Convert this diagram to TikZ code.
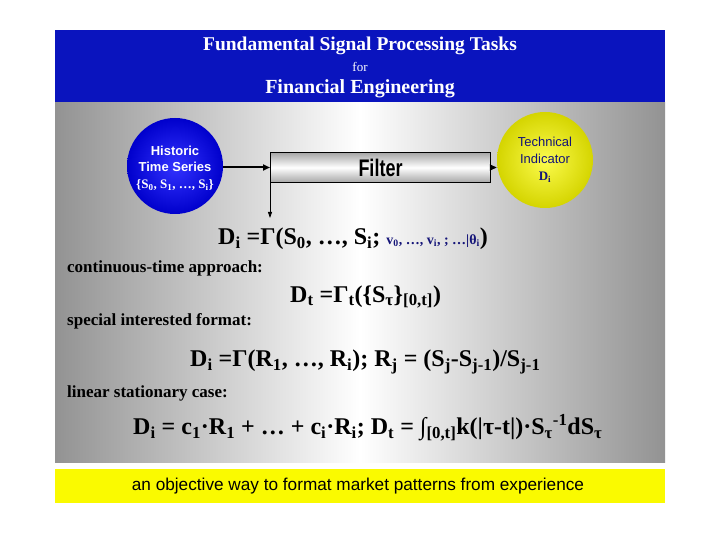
\documentclass[tikz,border=0pt]{standalone}
\usepackage{fontspec}
\setmainfont{Liberation Serif}
\newfontfamily\sans{Liberation Sans}
\usetikzlibrary{arrows.meta}
\definecolor{titleblue}{RGB}{10,20,190}
\definecolor{dkblue}{RGB}{20,20,120}
\definecolor{ylw}{RGB}{250,250,0}
\newcommand\sbb[1]{\textsubscript{#1}}
\newcommand\spp[1]{\textsuperscript{#1}}
\tikzset{x=1pt,y=-1pt,
 lbl/.style={font=\bfseries\fontsize{17}{18}\selectfont,anchor=west,inner sep=0},
 fml/.style={font=\bfseries\fontsize{24}{26}\selectfont,inner sep=0},
 arr/.style={-{Triangle[length=7,width=6]},line width=2}}
\begin{document}
\begin{tikzpicture}
\useasboundingbox (0,0) rectangle (720,540);
\fill[white] (0,0) rectangle (720,540);
\node[fill=titleblue,minimum width=610,minimum height=73,inner sep=0,anchor=north west] (title) at (55,30) {};
\node[white,font=\bfseries\fontsize{19.5}{21}\selectfont] (t1) at (360,46) {Fundamental Signal Processing Tasks};
\node[white,font=\fontsize{13}{14}\selectfont] (t2) at (360,67) {for};
\node[white,font=\bfseries\fontsize{20}{22}\selectfont] (t3) at (360,89) {Financial Engineering};
\shade[left color=gray!85,right color=gray!85,middle color=white] (55,103) rectangle (665,462);
\node[fill=ylw,minimum width=610,minimum height=34,inner sep=0,anchor=north west] (bar) at (55,469) {};
\node[font=\sans\fontsize{17.2}{19}\selectfont] (bt) at (358,486) {an objective way to format market patterns from experience};
\node[circle,minimum size=96,inner sep=0,inner color=blue!80,outer color=blue!80!black] (hist) at (175,166) {};
\node[white,align=center,font=\sans\bfseries\fontsize{13}{16}\selectfont] at (175,159) {Historic\\Time Series};
\node[white,font=\bfseries\fontsize{13}{14}\selectfont] at (175,185) {\{S\sbb{0}, S\sbb{1}, \dots, S\sbb{i}\}};
\node[circle,minimum size=96,inner sep=0,inner color=ylw!70!white,outer color=ylw!85!black] (tech) at (545,160) {};
\node[dkblue,align=center,font=\sans\fontsize{13}{17}\selectfont] at (545,160) {Technical\\Indicator\\{\rmfamily\bfseries D\sbb{i}}};
\node[draw,line width=1,minimum width=220,minimum height=30,inner sep=0,top color=gray!70,bottom color=gray!70,middle color=white,anchor=north west] (filter) at (270,152) {};
\node[font=\sans\bfseries\fontsize{24}{26}\selectfont,xscale=0.75] at (filter.center) {Filter};
\draw[arr] (hist.east |- filter.west) -- (filter.west);
\draw[arr] (filter.east) -- (tech.west |- filter.east);
\coordinate (dn) at (270,218);
\draw[-{Triangle[length=6,width=4]},line width=0.8] (filter.south west) -- (dn);
\node[fml,anchor=west] (f1) at (218,239) {D\sbb{i} =Γ(S\sbb{0}, …, S\sbb{i}; {\color{dkblue}\fontsize{14}{15}\selectfont v\sbb{0}, …, v\sbb{i}, ; …|θ\sbb{i}})};
\node[lbl] (l1) at (67,268) {continuous-time approach:};
\node[fml,anchor=west] (f2) at (290,297) {D\sbb{t} =Γ\sbb{t}(\{S\sbb{τ}\}\sbb{[0,t]})};
\node[lbl] (l2) at (67,321) {special interested format:};
\node[fml,anchor=west] (f3) at (190,362) {D\sbb{i} =Γ(R\sbb{1}, …, R\sbb{i}); R\sbb{j} = (S\sbb{j}-S\sbb{j-1})/S\sbb{j-1}};
\node[lbl] (l3) at (67,393) {linear stationary case:};
\node[fml,anchor=west] (f4) at (133,428) {D\sbb{i} = c\sbb{1}·R\sbb{1} + … + c\sbb{i}·R\sbb{i}; D\sbb{t} = ∫\sbb{[0,t]}k(|τ-t|)·S\sbb{τ}\spp{-1}dS\sbb{τ}};
\end{tikzpicture}
\end{document}
